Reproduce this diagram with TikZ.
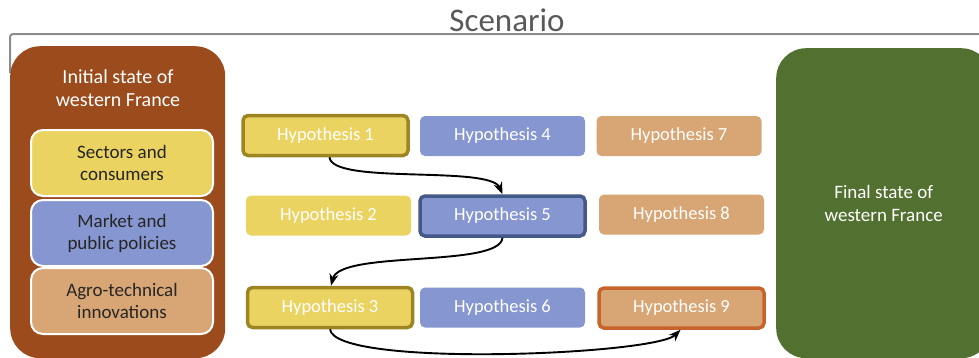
\documentclass[tikz,border=0pt]{standalone}
\usepackage{fontspec}
\setmainfont{Carlito}
\usetikzlibrary{arrows.meta}
\definecolor{brownbox}{RGB}{155,75,28}
\definecolor{greenbox}{RGB}{82,113,48}
\definecolor{hypyellow}{RGB}{235,211,97}
\definecolor{hypblue}{RGB}{134,150,208}
\definecolor{hyptan}{RGB}{216,165,116}
\definecolor{olivebd}{RGB}{156,133,34}
\definecolor{bluebd}{RGB}{68,89,138}
\definecolor{orangebd}{RGB}{200,100,43}
\definecolor{bracketgray}{RGB}{140,140,140}
\definecolor{titlegray}{RGB}{89,89,89}
\tikzset{
  hyp/.style={rounded corners=5pt, minimum width=165pt, minimum height=40pt,
    text=white, font=\fontsize{18.5}{22}\selectfont, inner sep=0pt},
  hypY/.style={hyp, fill=hypyellow},
  hypB/.style={hyp, fill=hypblue},
  hypT/.style={hyp, fill=hyptan},
  picked/.style={line width=3.5pt},
  factor/.style={rounded corners=12pt, draw=white, line width=2pt,
    minimum width=182pt, minimum height=66pt, align=center,
    text=black!85, font=\fontsize{19}{22}\selectfont, inner sep=0pt},
  bigstate/.style={rounded corners=30pt, text=white, align=center,
    font=\fontsize{19}{23}\selectfont, inner sep=0pt},
  flow/.style={-{Stealth[length=12pt,width=9pt]}, line width=1.9pt, black}
}
\begin{document}
\begin{tikzpicture}[x=1pt,y=-1pt]
\useasboundingbox (0,0) rectangle (979,357);
\clip (0,0) rectangle (979,357);

% title and bracket
\node[text=titlegray, font=\fontsize{33}{36}\selectfont] (title) at (507,20) {Scenario};
\draw[bracketgray, line width=2pt, rounded corners=3pt] (10,73) -- (10,34) -- (985,34);

% initial and final states
\node[bigstate, fill=brownbox, minimum width=215pt, minimum height=312pt, anchor=north west] (init) at (10,46) {};
\node[text=white, align=center, font=\fontsize{20}{23}\selectfont, inner sep=0pt] (inittext) at (118,88) {Initial state of\\western France};
\node[bigstate, fill=greenbox, minimum width=215pt, minimum height=310pt, anchor=north west] (final) at (776,48) {Final state of\\western France};

% factor boxes
\node[factor, fill=hypyellow] (sect) at (122,163) {Sectors and\\consumers};
\node[factor, fill=hypblue] (mark) at (122,233) {Market and\\public policies};
\node[factor, fill=hyptan] (agro) at (122,301) {Agro-technical\\innovations};

% hypotheses
\node[hypY, draw=olivebd, picked] (h1) at (325.5,135.5) {Hypothesis 1};
\node[hypY] (h2) at (328.5,215.5) {Hypothesis 2};
\node[hypY, draw=olivebd, picked] (h3) at (330,307.5) {Hypothesis 3};
\node[hypB] (h4) at (502.5,136) {Hypothesis 4};
\node[hypB, draw=bluebd, picked] (h5) at (502.5,216) {Hypothesis 5};
\node[hypB] (h6) at (502.5,307.5) {Hypothesis 6};
\node[hypT] (h7) at (679,136) {Hypothesis 7};
\node[hypT] (h8) at (681.5,214.5) {Hypothesis 8};
\node[hypT, draw=orangebd, picked] (h9) at (681.5,308) {Hypothesis 9};

% chosen path
\draw[flow] ([xshift=4pt]h1.south) .. controls (332,185) and (490,165) .. (h5.north);
\draw[flow] (h5.south) .. controls (500,268) and (340,250) .. ([xshift=1pt]h3.north);
\draw[flow] (h3.south) .. controls (335,368) and (655,355) .. ([xshift=-1pt]h9.south);
\end{tikzpicture}
\end{document}
